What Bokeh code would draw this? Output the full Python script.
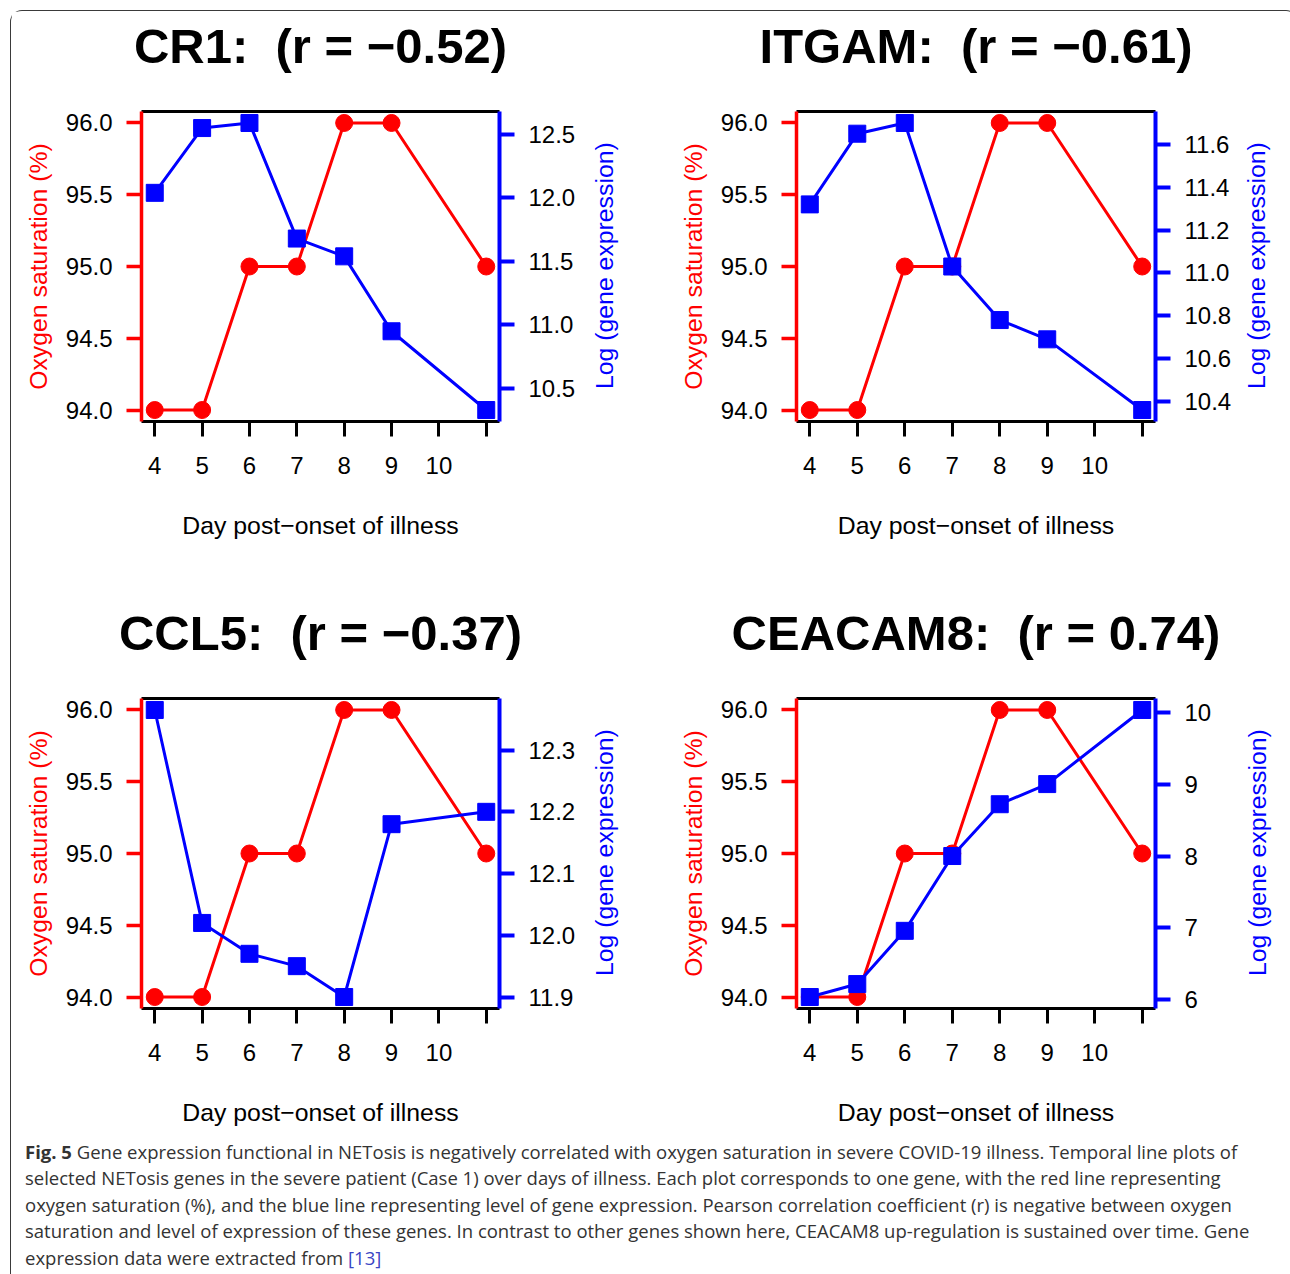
import math
from bokeh.plotting import figure
from bokeh.models import Range1d, LinearAxis, FixedTicker, PrintfTickFormatter, Div
from bokeh.layouts import row, column
from bokeh.embed import file_html
from bokeh.resources import INLINE

# ---------------- data ----------------
days = [4, 5, 6, 7, 8, 9, 11]
x_ticks = [4, 5, 6, 7, 8, 9, 10, 11]
x_tick_labels = ["4", "5", "6", "7", "8", "9", "10", ""]
oxygen = [94.0, 94.0, 95.0, 95.0, 96.0, 96.0, 95.0]
oxygen_ticks = [94.0, 94.5, 95.0, 95.5, 96.0]

genes = ["CR1", "ITGAM", "CCL5", "CEACAM8"]
r_values = ["\u22120.52", "\u22120.61", "\u22120.37", "0.74"]

cr1 = [12.04, 12.55, 12.59, 11.68, 11.54, 10.95, 10.33]
itgam = [11.32, 11.65, 11.70, 11.03, 10.78, 10.69, 10.36]
ccl5 = [12.365, 12.02, 11.97, 11.95, 11.90, 12.18, 12.20]
ceacam8 = [6.04, 6.22, 6.96, 8.00, 8.72, 9.00, 10.03]

cr1_ticks = [10.5, 11.0, 11.5, 12.0, 12.5]
itgam_ticks = [10.4, 10.6, 10.8, 11.0, 11.2, 11.4, 11.6]
ccl5_ticks = [11.9, 12.0, 12.1, 12.2, 12.3]
ceacam8_ticks = [6, 7, 8, 9, 10]

series = [cr1, itgam, ccl5, ceacam8]
series_ticks = [cr1_ticks, itgam_ticks, ccl5_ticks, ceacam8_ticks]
series_fmt = ["%.1f", "%.1f", "%.1f", "%d"]

x_label = "Day post\u2212onset of illness"
y_label = "Oxygen saturation (%)"
y2_label = "Log (gene expression)"

RED = "#ff0000"
BLUE = "#0000ff"
FONT = "Liberation Sans"
LABEL_SIZE = "24.8px"


def padded(vals, frac=0.04):
    lo, hi = min(vals), max(vals)
    d = (hi - lo) * frac
    return lo - d, hi + d


def style_axis(ax, color, tick_w):
    ax.axis_line_color = color
    ax.axis_line_width = tick_w
    ax.major_tick_line_color = color
    ax.major_tick_line_width = tick_w
    ax.major_tick_out = 15
    ax.major_tick_in = 0
    ax.minor_tick_line_color = None
    ax.major_label_text_font = FONT
    ax.major_label_text_font_size = "24px"
    ax.major_label_text_color = "black"
    ax.axis_label_text_font = FONT
    ax.axis_label_text_font_size = LABEL_SIZE
    ax.axis_label_text_font_style = "normal"


def make_panel(i, W, H, lb, rb, tb, bb, label_shift=0):
    expr = series[i]
    xlo, xhi = padded(days)
    ylo, yhi = padded(oxygen)
    glo, ghi = padded(expr)
    p = figure(width=W, height=H, output_backend="svg", toolbar_location=None,
               x_range=Range1d(xlo, xhi), y_range=Range1d(ylo, yhi),
               x_axis_type=None, y_axis_type=None,
               min_border_left=lb, min_border_right=rb,
               min_border_top=tb, min_border_bottom=bb)
    p.title_location = None
    p.outline_line_color = None
    p.background_fill_color = "white"
    p.border_fill_color = "white"
    p.extra_y_ranges = {"gene": Range1d(glo, ghi)}

    # top border carrying the panel title
    top_ax = LinearAxis(ticker=FixedTicker(ticks=[]),
                        axis_label=f"{genes[i]}:\u00a0\u00a0(r = {r_values[i]})")
    top_ax.axis_line_color = "black"
    top_ax.axis_line_width = 3
    top_ax.major_tick_line_color = None
    top_ax.minor_tick_line_color = None
    top_ax.major_tick_out = 0
    top_ax.axis_label_text_font = FONT
    top_ax.axis_label_text_font_size = "49px"
    top_ax.axis_label_text_font_style = "bold"
    top_ax.axis_label_text_color = "black"
    top_ax.axis_label_standoff = 39
    p.add_layout(top_ax, "above")

    # bottom axis
    xa = LinearAxis(ticker=FixedTicker(ticks=x_ticks),
                    major_label_overrides={t: l for t, l in zip(x_ticks, x_tick_labels)},
                    axis_label=x_label)
    style_axis(xa, "black", 3)
    xa.major_label_standoff = 20
    xa.axis_label_standoff = 35
    xa.axis_label_text_color = "black"
    p.add_layout(xa, "below")

    # left axis (oxygen)
    ya = LinearAxis(ticker=FixedTicker(ticks=oxygen_ticks),
                    formatter=PrintfTickFormatter(format="%.1f"),
                    axis_label=y_label)
    style_axis(ya, RED, 3.5)
    ya.major_label_orientation = "horizontal"
    ya.major_label_standoff = 14
    ya.axis_label_standoff = 11
    ya.axis_label_text_color = RED
    p.add_layout(ya, "left")

    # right axis (gene expression)
    ga = LinearAxis(y_range_name="gene", ticker=FixedTicker(ticks=series_ticks[i]),
                    formatter=PrintfTickFormatter(format=series_fmt[i]))
    style_axis(ga, BLUE, 4)
    ga.major_label_orientation = "horizontal"
    ga.major_label_standoff = 14
    p.add_layout(ga, "right")

    # right-axis title (reads bottom to top)
    widest = max(len(series_fmt[i] % t) for t in series_ticks[i])
    ta = LinearAxis(ticker=FixedTicker(ticks=[]),
                    axis_label="\u00a0\u00a0\u00a0\u00a0\u2009" + y2_label)
    ta.axis_line_color = None
    ta.major_tick_line_color = None
    ta.minor_tick_line_color = None
    ta.major_tick_out = 0
    ta.axis_label_text_font = FONT
    ta.axis_label_text_font_size = LABEL_SIZE
    ta.axis_label_text_font_style = "normal"
    ta.axis_label_text_color = BLUE
    ta.axis_label_orientation = math.pi / 2
    ta.axis_label_align = "start"
    ta.axis_label_standoff = (26 if widest >= 4 else 47) - label_shift
    p.add_layout(ta, "right")

    p.line(days, oxygen, line_color=RED, line_width=3)
    p.scatter(days, oxygen, marker="circle", size=17, fill_color=RED, line_color=RED)
    p.line(days, expr, line_color=BLUE, line_width=3, y_range_name="gene")
    p.scatter(days, expr, marker="square", size=17, fill_color=BLUE, line_color=BLUE,
              y_range_name="gene")
    return p


W = 638
p1 = make_panel(0, W, 587, 130, 150, 100, 177)
p2 = make_panel(1, W, 587, 147, 132, 100, 177, label_shift=4)
p3 = make_panel(2, W, 536, 130, 150, 100, 126)
p4 = make_panel(3, W, 536, 147, 132, 100, 126, label_shift=4)

caption_lines = [
    "<b>Fig. 5</b> Gene expression functional in NETosis is negatively correlated with oxygen saturation in severe COVID-19 illness. Temporal line plots of",
    "selected NETosis genes in the severe patient (Case 1) over days of illness. Each plot corresponds to one gene, with the red line representing",
    "oxygen saturation (%), and the blue line representing level of gene expression. Pearson correlation coefficient (r) is negative between oxygen",
    "saturation and level of expression of these genes. In contrast to other genes shown here, CEACAM8 up-regulation is sustained over time. Gene",
    "expression data were extracted from <span style=\"color:#3b46c4\">[13]</span>",
]
cap = Div(text="<br>".join(caption_lines), width=1276, height=136,
          styles={"font-family": "'Open Sans'", "font-size": "18.5px",
                  "line-height": "26.4px", "color": "#333333",
                  "white-space": "nowrap", "padding-left": "9px"})

lay = column(row(p1, p2), row(p3, p4), cap, margin=(10, 0, 0, 10),
             styles={"border": "1.5px solid #3a3a3a", "border-bottom": "none",
                     "border-radius": "12px 12px 0 0", "background-color": "white"})

open("out.html", "w").write(file_html(lay, INLINE))
